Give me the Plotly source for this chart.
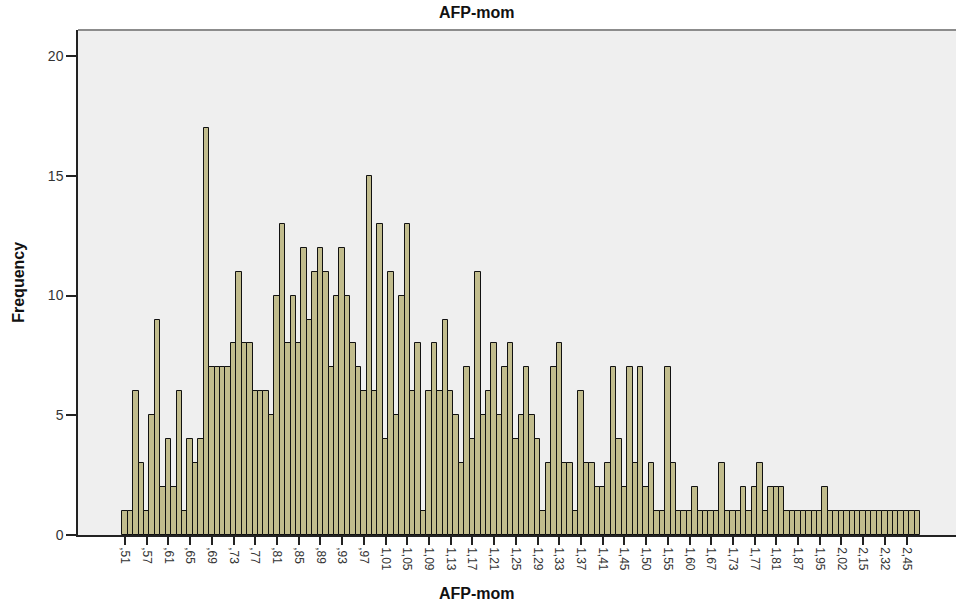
import plotly.graph_objects as go

# Frequency of each distinct AFP-mom value, in ascending order of the value
freq = [
    1, 1, 6, 3, 1, 5, 9, 2, 4, 2, 6, 1, 4, 3, 4, 17, 7, 7, 7, 7, 8, 11, 8, 8,
    6, 6, 6, 5, 10, 13, 8, 10, 8, 12, 9, 11, 12, 11, 7, 10, 12, 10, 8, 7, 6, 15, 6, 13,
    4, 11, 5, 10, 13, 6, 8, 1, 6, 8, 6, 9, 6, 5, 3, 7, 4, 11, 5, 6, 8, 5, 7, 8,
    4, 5, 7, 5, 4, 1, 3, 7, 8, 3, 3, 1, 6, 3, 3, 2, 2, 3, 7, 4, 2, 7, 3, 7,
    2, 3, 1, 1, 7, 3, 1, 1, 1, 2, 1, 1, 1, 1, 3, 1, 1, 1, 2, 1, 2, 3, 1, 2,
    2, 2, 1, 1, 1, 1, 1, 1, 1, 2, 1, 1, 1, 1, 1, 1, 1, 1, 1, 1, 1, 1, 1, 1, 1, 1, 1,
]

# Labels shown under every fourth category
tick_labels = [
    ",51", ",57", ",61", ",65", ",69", ",73", ",77", ",81", ",85", ",89", ",93", ",97",
    "1,01", "1,05", "1,09", "1,13", "1,17", "1,21", "1,25", "1,29", "1,33", "1,37",
    "1,41", "1,45", "1,50", "1,55", "1,60", "1,67", "1,73", "1,77", "1,81", "1,87",
    "1,95", "2,02", "2,15", "2,32", "2,45",
]
label_step = 4

y_ticks = [0, 5, 10, 15, 20]

positions = list(range(len(freq)))
tick_positions = [i * label_step for i in range(len(tick_labels))]

FONT = "Liberation Sans, Arial, sans-serif"

fig = go.Figure(
    go.Bar(
        x=positions,
        y=freq,
        marker=dict(color="#c1bc8d", line=dict(color="#111111", width=1)),
        hoverinfo="y",
    )
)

fig.update_layout(
    width=956,
    height=608,
    margin=dict(l=78, r=0, t=30, b=73),
    paper_bgcolor="white",
    plot_bgcolor="#efefef",
    bargap=0,
    showlegend=False,
    font=dict(family=FONT, color="#333333"),
    xaxis=dict(
        range=[-8.66, 153.1],
        tickmode="array",
        tickvals=tick_positions,
        ticktext=tick_labels,
        tickangle=90,
        ticks="outside",
        ticklen=8,
        tickwidth=1.5,
        tickcolor="#222222",
        tickfont=dict(size=12, color="#333333", family=FONT),
        showgrid=False,
        zeroline=False,
        showline=True,
        linecolor="#222222",
        linewidth=1.5,
    ),
    yaxis=dict(
        range=[0, 21.09],
        tickmode="array",
        tickvals=y_ticks,
        ticks="outside",
        ticklen=10,
        tickwidth=1.5,
        tickcolor="#222222",
        tickfont=dict(size=14, color="#333333", family=FONT),
        showgrid=False,
        zeroline=False,
        showline=True,
        linecolor="#222222",
        linewidth=1.5,
    ),
    shapes=[
        dict(type="line", xref="paper", yref="paper", x0=0, x1=1, y0=1, y1=1,
             line=dict(color="#8c8c8c", width=2)),
    ],
    annotations=[
        dict(text="<b>AFP-mom</b>", xref="paper", yref="paper", x=0.4544, y=1.0356,
             xanchor="center", yanchor="middle", showarrow=False,
             font=dict(size=16, color="#111111", family=FONT)),
        dict(text="<b>AFP-mom</b>", xref="paper", yref="paper", x=0.4544, y=-0.1149,
             xanchor="center", yanchor="middle", showarrow=False,
             font=dict(size=16, color="#111111", family=FONT)),
        dict(text="<b>Frequency</b>", xref="paper", yref="paper", x=-0.068, y=0.5,
             xanchor="center", yanchor="middle", textangle=-90, showarrow=False,
             font=dict(size=16, color="#111111", family=FONT)),
    ],
)

fig.write_html("out.html")
